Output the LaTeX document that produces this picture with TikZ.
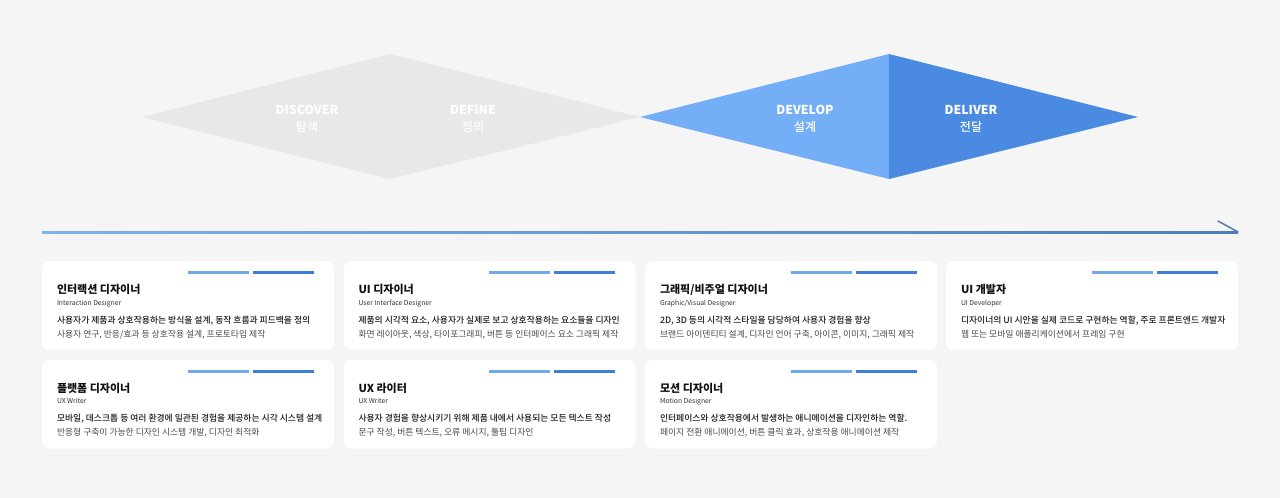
\documentclass[tikz,border=0pt]{standalone}
\usepackage{fontspec}
\setmainfont{Noto Sans CJK KR}
\newfontfamily\medfont{Noto Sans CJK KR Medium}
\usetikzlibrary{calc}
\definecolor{BgClr}{HTML}{F5F5F5}
\definecolor{GrayClr}{HTML}{E8E8E8}
\definecolor{DevClr}{HTML}{74AEF6}
\definecolor{DelClr}{HTML}{4A8BE1}
\definecolor{BarLightClr}{HTML}{72A9E8}
\definecolor{BarDarkClr}{HTML}{3E7ED6}
\definecolor{ArrowLeftClr}{HTML}{7DB2EC}
\definecolor{ArrowRightClr}{HTML}{4E7DB8}
\definecolor{TitleClr}{HTML}{111111}
\definecolor{SubClr}{HTML}{333333}
\definecolor{BodyClr}{HTML}{1C1C1C}
\definecolor{NoteClr}{HTML}{4A4A4A}

\tikzset{
  card/.style={fill=white,rounded corners=8pt,minimum width=292pt,minimum height=89pt,inner sep=0pt},
  barA/.style={BarLightClr,line width=3pt},
  barB/.style={BarDarkClr,line width=3pt},
  phase/.style={text=white,font=\bfseries\fontsize{12.3}{14}\selectfont,anchor=base,inner sep=0pt},
  phasekr/.style={text=white,font=\medfont\fontsize{12}{14}\selectfont,anchor=base,inner sep=0pt},
  roletitle/.style={text=TitleClr,font=\bfseries\fontsize{11}{13}\selectfont,anchor=base west,inner sep=0pt},
  rolesub/.style={text=SubClr,font=\fontsize{6.8}{8}\selectfont,anchor=base west,inner sep=0pt},
  rolebody/.style={text=BodyClr,font=\medfont\fontsize{8.8}{10}\selectfont,anchor=base west,inner sep=0pt},
  rolenote/.style={text=NoteClr,font=\fontsize{8.8}{10}\selectfont,anchor=base west,inner sep=0pt}
}

\begin{document}
\begin{tikzpicture}[x=1pt,y=-1pt]
\fill[BgClr] (0,0) rectangle (1280,498);
\useasboundingbox (0,0) rectangle (1280,498);

% double diamond
\coordinate (DisL) at (142,117);
\coordinate (DisT) at (390,54);
\coordinate (DisB) at (390,179);
\coordinate (Mid)  at (640,117);
\coordinate (DevT) at (889,54);
\coordinate (DevB) at (889,179);
\coordinate (DelR) at (1138,117);

\fill[GrayClr] (DisL) -- (DisT) -- (Mid) -- (DisB) -- cycle;
\fill[DevClr] (Mid) -- (DevT) -- (DevB) -- cycle;
\fill[DelClr] (DevT) -- (DelR) -- (DevB) -- cycle;

\node[phase]   (discover)   at (307,114.5) {DISCOVER};
\node[phasekr] (discoverKr) at (307,131.5) {탐색};
\node[phase]   (define)     at (473,114.5) {DEFINE};
\node[phasekr] (defineKr)   at (473,131.5) {정의};
\node[phase]   (develop)    at (805,114.5) {DEVELOP};
\node[phasekr] (developKr)  at (805,131.5) {설계};
\node[phase]   (deliver)    at (971,114.5) {DELIVER};
\node[phasekr] (deliverKr)  at (971,131.5) {전달};

% timeline
\coordinate (ArrS) at (42,232);
\coordinate (ArrE) at (1238,232);
\shade[left color=ArrowLeftClr,right color=ArrowRightClr] ($(ArrS)+(0,-1)$) rectangle ($(ArrE)+(0,1)$);
\draw[ArrowRightClr,line width=1.5pt,line cap=round] (ArrE) -- ++(-20,-11);

% first row
\node[card] (c1) at (188,305.5) {};
\draw[barA] ($(c1.north west)+(146,12)$) -- ++(61,0);
\draw[barB] ($(c1.north west)+(211,12)$) -- ++(61,0);
\node[roletitle] (c1t) at ($(c1.north west)+(15,33)$) {인터랙션 디자이너};
\node[rolesub]   (c1s) at ($(c1.north west)+(15,44.5)$) {Interaction Designer};
\node[rolebody]  (c1b) at ($(c1.north west)+(15,62.5)$) {사용자가 제품과 상호작용하는 방식을 설계, 동작 흐름과 피드백을 정의};
\node[rolenote]  (c1n) at ($(c1.north west)+(15,76.5)$) {사용자 연구, 반응/효과 등 상호작용 설계, 프로토타입 제작};

\node[card] (c2) at (489.5,305.5) {};
\draw[barA] ($(c2.north west)+(146,12)$) -- ++(61,0);
\draw[barB] ($(c2.north west)+(211,12)$) -- ++(61,0);
\node[roletitle] (c2t) at ($(c2.north west)+(15,33)$) {UI 디자이너};
\node[rolesub]   (c2s) at ($(c2.north west)+(15,44.5)$) {User Interface Designer};
\node[rolebody]  (c2b) at ($(c2.north west)+(15,62.5)$) {제품의 시각적 요소, 사용자가 실제로 보고 상호작용하는 요소들을 디자인};
\node[rolenote]  (c2n) at ($(c2.north west)+(15,76.5)$) {화면 레이아웃, 색상, 타이포그래피, 버튼 등 인터페이스 요소 그래픽 제작};

\node[card] (c3) at (791,305.5) {};
\draw[barA] ($(c3.north west)+(146,12)$) -- ++(61,0);
\draw[barB] ($(c3.north west)+(211,12)$) -- ++(61,0);
\node[roletitle] (c3t) at ($(c3.north west)+(15,33)$) {그래픽/비주얼 디자이너};
\node[rolesub]   (c3s) at ($(c3.north west)+(15,44.5)$) {Graphic/Visual Designer};
\node[rolebody]  (c3b) at ($(c3.north west)+(15,62.5)$) {2D, 3D 등의 시각적 스타일을 담당하여 사용자 경험을 향상};
\node[rolenote]  (c3n) at ($(c3.north west)+(15,76.5)$) {브랜드 아이덴티티 설계, 디자인 언어 구축, 아이콘, 이미지, 그래픽 제작};

\node[card] (c4) at (1092,305.5) {};
\draw[barA] ($(c4.north west)+(146,12)$) -- ++(61,0);
\draw[barB] ($(c4.north west)+(211,12)$) -- ++(61,0);
\node[roletitle] (c4t) at ($(c4.north west)+(15,33)$) {UI 개발자};
\node[rolesub]   (c4s) at ($(c4.north west)+(15,44.5)$) {UI Developer};
\node[rolebody]  (c4b) at ($(c4.north west)+(15,62.5)$) {디자이너의 UI 시안을 실제 코드로 구현하는 역할, 주로 프론트엔드 개발자};
\node[rolenote]  (c4n) at ($(c4.north west)+(15,76.5)$) {웹 또는 모바일 애플리케이션에서 프레임 구현};

% second row
\node[card] (c5) at (188,404) {};
\draw[barA] ($(c5.north west)+(146,12)$) -- ++(61,0);
\draw[barB] ($(c5.north west)+(211,12)$) -- ++(61,0);
\node[roletitle] (c5t) at ($(c5.north west)+(15,33)$) {플랫폼 디자이너};
\node[rolesub]   (c5s) at ($(c5.north west)+(15,44.5)$) {UX Writer};
\node[rolebody]  (c5b) at ($(c5.north west)+(15,62.5)$) {모바일, 데스크톱 등 여러 환경에 일관된 경험을 제공하는 시각 시스템 설계};
\node[rolenote]  (c5n) at ($(c5.north west)+(15,76.5)$) {반응형 구축이 가능한 디자인 시스템 개발, 디자인 최적화};

\node[card] (c6) at (489.5,404) {};
\draw[barA] ($(c6.north west)+(146,12)$) -- ++(61,0);
\draw[barB] ($(c6.north west)+(211,12)$) -- ++(61,0);
\node[roletitle] (c6t) at ($(c6.north west)+(15,33)$) {UX 라이터};
\node[rolesub]   (c6s) at ($(c6.north west)+(15,44.5)$) {UX Writer};
\node[rolebody]  (c6b) at ($(c6.north west)+(15,62.5)$) {사용자 경험을 향상시키기 위해 제품 내에서 사용되는 모든 텍스트 작성};
\node[rolenote]  (c6n) at ($(c6.north west)+(15,76.5)$) {문구 작성, 버튼 텍스트, 오류 메시지, 툴팁 디자인};

\node[card] (c7) at (791,404) {};
\draw[barA] ($(c7.north west)+(146,12)$) -- ++(61,0);
\draw[barB] ($(c7.north west)+(211,12)$) -- ++(61,0);
\node[roletitle] (c7t) at ($(c7.north west)+(15,33)$) {모션 디자이너};
\node[rolesub]   (c7s) at ($(c7.north west)+(15,44.5)$) {Motion Designer};
\node[rolebody]  (c7b) at ($(c7.north west)+(15,62.5)$) {인터페이스와 상호작용에서 발생하는 애니메이션을 디자인하는 역할.};
\node[rolenote]  (c7n) at ($(c7.north west)+(15,76.5)$) {페이지 전환 애니메이션, 버튼 클릭 효과, 상호작용 애니메이션 제작};

\end{tikzpicture}
\end{document}
